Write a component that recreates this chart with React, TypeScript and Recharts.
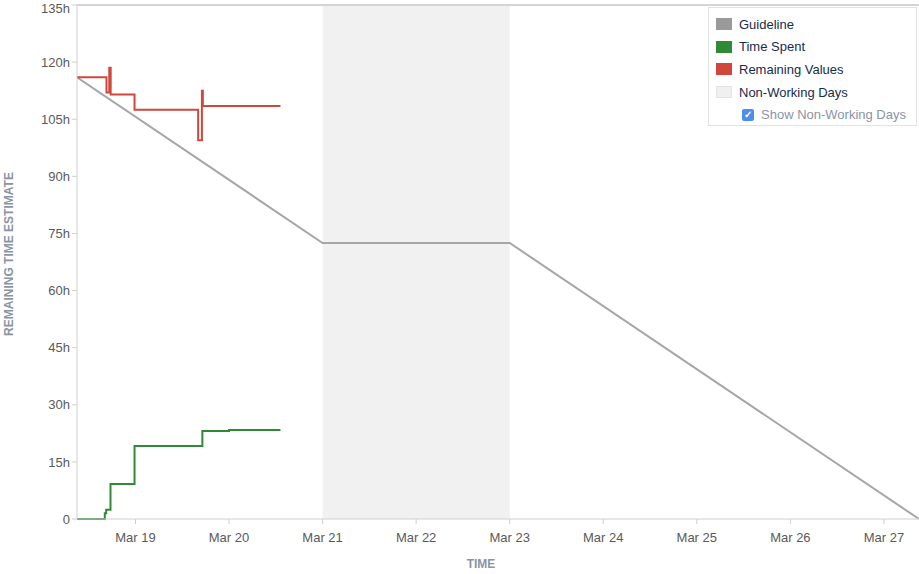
import { LineChart, Line, XAxis, YAxis, ReferenceArea, ReferenceLine } from "recharts";

// x values are days of March (decimal), y values are hours
const guideDays = [18.375, 21, 23, 27.375];
const guideHours = [116, 72.5, 72.5, 0];

const remainingDays = [18.375, 18.69, 18.72, 18.735, 18.99, 19.67, 19.71, 19.72, 20.55];
const remainingHours = [116, 112, 118.5, 111.5, 107.5, 99.5, 112.5, 108.5, 108.5];

const spentDays = [18.375, 18.672, 18.687, 18.733, 18.99, 19.715, 20.0, 20.55];
const spentHours = [0, 1.5, 2.4, 9.2, 19.2, 23.1, 23.4, 23.4];

const dayTicks = [19, 20, 21, 22, 23, 24, 25, 26, 27];
const hourTicks = [0, 15, 30, 45, 60, 75, 90, 105, 120, 135];
const nonWorking = [21, 23];

const legendItems = [
  { name: "Guideline", color: "#9a9a9a" },
  { name: "Time Spent", color: "#2f8a35" },
  { name: "Remaining Values", color: "#d0473b" },
  { name: "Non-Working Days", color: "#f0f0f0" },
];

const zip = (xs: number[], ys: number[]) => xs.map((d, i) => ({ day: d, h: ys[i] }));

const font = '"Liberation Sans", Arial, sans-serif';

export default function App() {
  const guide = zip(guideDays, guideHours);
  const remaining = zip(remainingDays, remainingHours);
  const spent = zip(spentDays, spentHours);

  return (
    <div style={{ position: "absolute", left: 0, top: 0, width: 919, height: 574, fontFamily: font, background: "#fff" }}>
      <LineChart width={919} height={574} margin={{ top: 5, right: 0, left: 0, bottom: 0 }}>
        <ReferenceArea
          x1={nonWorking[0]}
          x2={nonWorking[1]}
          y1={0}
          y2={135}
          fill="#f1f1f1"
          fillOpacity={1}
          stroke="none"
        />
        <ReferenceLine y={135} stroke="#d4d4d4" strokeWidth={2} />
        <XAxis
          dataKey="day"
          type="number"
          domain={[18.375, 27.375]}
          ticks={dayTicks}
          tickFormatter={(d) => `Mar ${d}`}
          allowDataOverflow
          height={55}
          stroke="#cfcfcf"
          tickSize={5}
          tickMargin={9}
          tick={{ fill: "#5a5a5a", fontSize: 13, fontFamily: font }}
          label={({ viewBox }: any) => (
            <text
              x={viewBox.x + viewBox.width / 2 - 17}
              y={viewBox.y + viewBox.height - 6}
              textAnchor="middle"
              fill="#8a94a6"
              fontSize={12}
              fontWeight="bold"
              fontFamily={font}
            >
              TIME
            </text>
          )}
        />
        <YAxis
          type="number"
          domain={[0, 135]}
          ticks={hourTicks}
          tickFormatter={(v) => (v === 0 ? "0" : `${v}h`)}
          width={77}
          stroke="#cfcfcf"
          tickSize={5}
          tick={{ fill: "#5a5a5a", fontSize: 13, fontFamily: font }}
          label={({ viewBox }: any) => {
            const cx = 9;
            const cy = viewBox.y + viewBox.height / 2 - 8;
            return (
              <text
                x={cx}
                y={cy}
                transform={`rotate(-90 ${cx} ${cy})`}
                textAnchor="middle"
                dominantBaseline="central"
                fill="#8a94a6"
                fontSize={12}
                fontWeight="bold"
                fontFamily={font}
              >
                REMAINING TIME ESTIMATE
              </text>
            );
          }}
        />
        <Line
          data={guide}
          dataKey="h"
          type="linear"
          stroke="#a6a6a6"
          strokeWidth={2}
          dot={false}
          isAnimationActive={false}
        />
        <Line
          data={spent}
          dataKey="h"
          type="stepAfter"
          stroke="#2f8a35"
          strokeWidth={2}
          dot={false}
          isAnimationActive={false}
        />
        <Line
          data={remaining}
          dataKey="h"
          type="stepAfter"
          stroke="#d0473b"
          strokeWidth={2}
          dot={false}
          isAnimationActive={false}
        />
      </LineChart>

      <div
        style={{
          position: "absolute",
          left: 708,
          top: 7,
          width: 209,
          height: 119,
          border: "1px solid #e2e2e2",
          background: "#fff",
          boxSizing: "border-box",
          padding: "5px 0 0 7px",
          fontSize: 13,
          color: "#172b4d",
        }}
      >
        {legendItems.map((it) => (
          <div key={it.name} style={{ display: "flex", alignItems: "center", height: 22.6 }}>
            <span
              style={{
                display: "inline-block",
                width: 16,
                height: 12,
                background: it.color,
                border: it.name === "Non-Working Days" ? "1px solid #e4e4e4" : "none",
                boxSizing: "border-box",
                marginRight: 7,
              }}
            />
            {it.name}
          </div>
        ))}
        <div style={{ display: "flex", alignItems: "center", height: 22.6, paddingLeft: 26, color: "#8a94a6" }}>
          <span
            style={{
              display: "inline-flex",
              alignItems: "center",
              justifyContent: "center",
              width: 12,
              height: 12,
              borderRadius: 2,
              background: "#4a8ef0",
              color: "#fff",
              fontSize: 10,
              fontWeight: "bold",
              marginRight: 7,
            }}
          >
            ✓
          </span>
          Show Non-Working Days
        </div>
      </div>
    </div>
  );
}
